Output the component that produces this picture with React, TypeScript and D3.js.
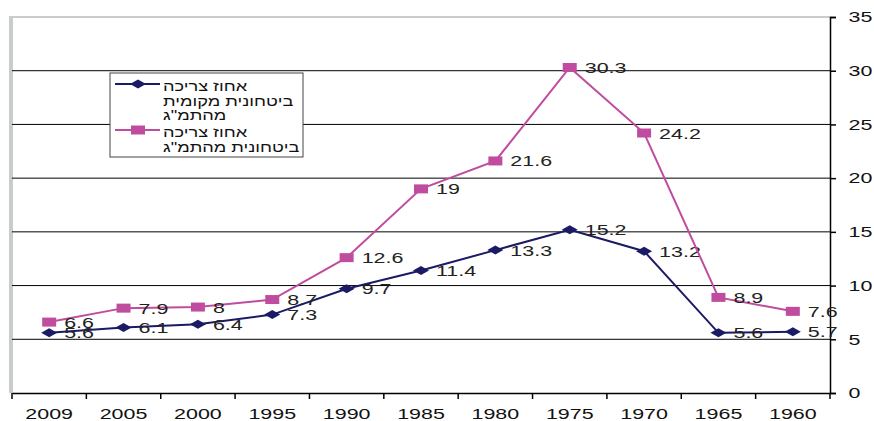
import React, { useEffect, useRef } from 'react';
import * as d3 from 'd3';

const years = ['2009', '2005', '2000', '1995', '1990', '1985', '1980', '1975', '1970', '1965', '1960'];
const localShare = [5.6, 6.1, 6.4, 7.3, 9.7, 11.4, 13.3, 15.2, 13.2, 5.6, 5.7];
const gdpShare = [6.6, 7.9, 8, 8.7, 12.6, 19, 21.6, 30.3, 24.2, 8.9, 7.6];
const yTicks = [0, 5, 10, 15, 20, 25, 30, 35];
const legendLocal = ['אחוז צריכה', 'ביטחונית מקומית', 'מהתמ"ג'];
const legendGdp = ['אחוז צריכה', 'ביטחונית מהתמ"ג'];

const NAVY = '#1b1a64';
const PINK = '#bf4c9f';
const FONT = '"Liberation Sans", Arial, sans-serif';
const SX = 1.43; // the original picture is stretched sideways

// stretched markers, as in the picture
const diamond = 'M-8,0L0,-4.5L8,0L0,4.5Z';
const square = 'M-7,-4.5H7V4.5H-7Z';

const App = () => {
  const ref = useRef<SVGSVGElement>(null);

  useEffect(() => {
    const svg = d3.select(ref.current);
    svg.selectAll('*').remove();

    const left = 12, right = 830, top = 17, bottom = 393;

    const x = d3.scaleBand().domain(years).range([left, right]);
    const y = d3.scaleLinear().domain([0, 35]).range([bottom, top]);
    const cx = (d: string) => (x(d) as number) + x.bandwidth() / 2;

    // plot frame (grey left/top)
    svg.append('line').attr('x1', left - 1).attr('x2', left - 1).attr('y1', top).attr('y2', bottom)
      .attr('stroke', '#c8cccc').attr('stroke-width', 4);
    svg.append('line').attr('x1', left - 3).attr('x2', right).attr('y1', top).attr('y2', top)
      .attr('stroke', '#c8cccc').attr('stroke-width', 2);

    // gridlines
    svg.append('g').selectAll('line').data(yTicks.filter(t => t > 0 && t < 35)).enter().append('line')
      .attr('x1', left).attr('x2', right).attr('y1', d => y(d)).attr('y2', d => y(d))
      .attr('stroke', '#000').attr('stroke-width', 1);

    // bottom axis
    const xAxis = svg.append('g').attr('transform', `translate(0, ${bottom})`)
      .call(d3.axisBottom(x).tickSize(0).tickPadding(15));
    xAxis.select('.domain').attr('stroke', '#000').attr('stroke-width', 1.5);
    xAxis.selectAll('text').attr('font-family', FONT).attr('font-size', 15).attr('fill', '#111')
      .attr('transform', `scale(${SX},1)`);
    xAxis.selectAll('.bt').data(d3.range(years.length + 1)).enter().append('line')
      .attr('x1', i => left + i * x.step()).attr('x2', i => left + i * x.step())
      .attr('y1', 0).attr('y2', 6).attr('stroke', '#000').attr('stroke-width', 1.5);

    // right axis
    const yAxis = svg.append('g').attr('transform', `translate(${right}, 0)`)
      .call(d3.axisRight(y).tickValues(yTicks).tickSize(6).tickPadding(7));
    yAxis.select('.domain').attr('stroke', '#000').attr('stroke-width', 1.5);
    yAxis.selectAll('line').attr('stroke', '#000').attr('stroke-width', 1.5);
    yAxis.selectAll('text').attr('font-family', FONT).attr('font-size', 15).attr('fill', '#111')
      .attr('transform', `scale(${SX},1)`);

    const series = [
      { values: localShare, color: NAVY, shape: diamond },
      { values: gdpShare, color: PINK, shape: square },
    ];

    series.forEach(s => {
      const line = d3.line<number>().x((_, i) => cx(years[i])).y(d => y(d));
      svg.append('path').datum(s.values).attr('d', line).attr('fill', 'none')
        .attr('stroke', s.color).attr('stroke-width', 2);
      svg.append('g').selectAll('path').data(s.values).enter().append('path')
        .attr('d', s.shape)
        .attr('transform', (d, i) => `translate(${cx(years[i])}, ${y(d)})`)
        .attr('fill', s.color);
      svg.append('g').selectAll('text').data(s.values).enter().append('text')
        .attr('transform', (d, i) => `translate(${cx(years[i]) + 15}, ${y(d) + 5.5}) scale(${SX},1)`)
        .attr('font-family', FONT).attr('font-size', 15).attr('fill', '#222')
        .text(d => String(d));
    });

    // legend
    const lg = svg.append('g');
    lg.append('rect').attr('x', 110).attr('y', 73).attr('width', 193).attr('height', 84)
      .attr('fill', '#fff').attr('stroke', '#444').attr('stroke-width', 1);
    const addEntry = (ly: number, s: typeof series[0], lines: string[]) => {
      lg.append('line').attr('x1', 115).attr('x2', 160).attr('y1', ly).attr('y2', ly)
        .attr('stroke', s.color).attr('stroke-width', 2);
      lg.append('path').attr('d', s.shape)
        .attr('transform', `translate(138, ${ly})`).attr('fill', s.color);
      lines.forEach((t, i) => {
        lg.append('text').attr('transform', `translate(163, ${ly + 7 + i * 14.5}) scale(1.3,1)`)
          .attr('font-family', FONT).attr('font-size', 14).attr('fill', '#111')
          .text(t);
      });
    };
    addEntry(84, series[0], legendLocal);
    addEntry(130, series[1], legendGdp);
  }, []);

  return (
    <svg ref={ref} width={874} height={421}
      style={{ position: 'absolute', left: 0, top: 0, background: '#fff' }}></svg>
  );
};

export default App;
